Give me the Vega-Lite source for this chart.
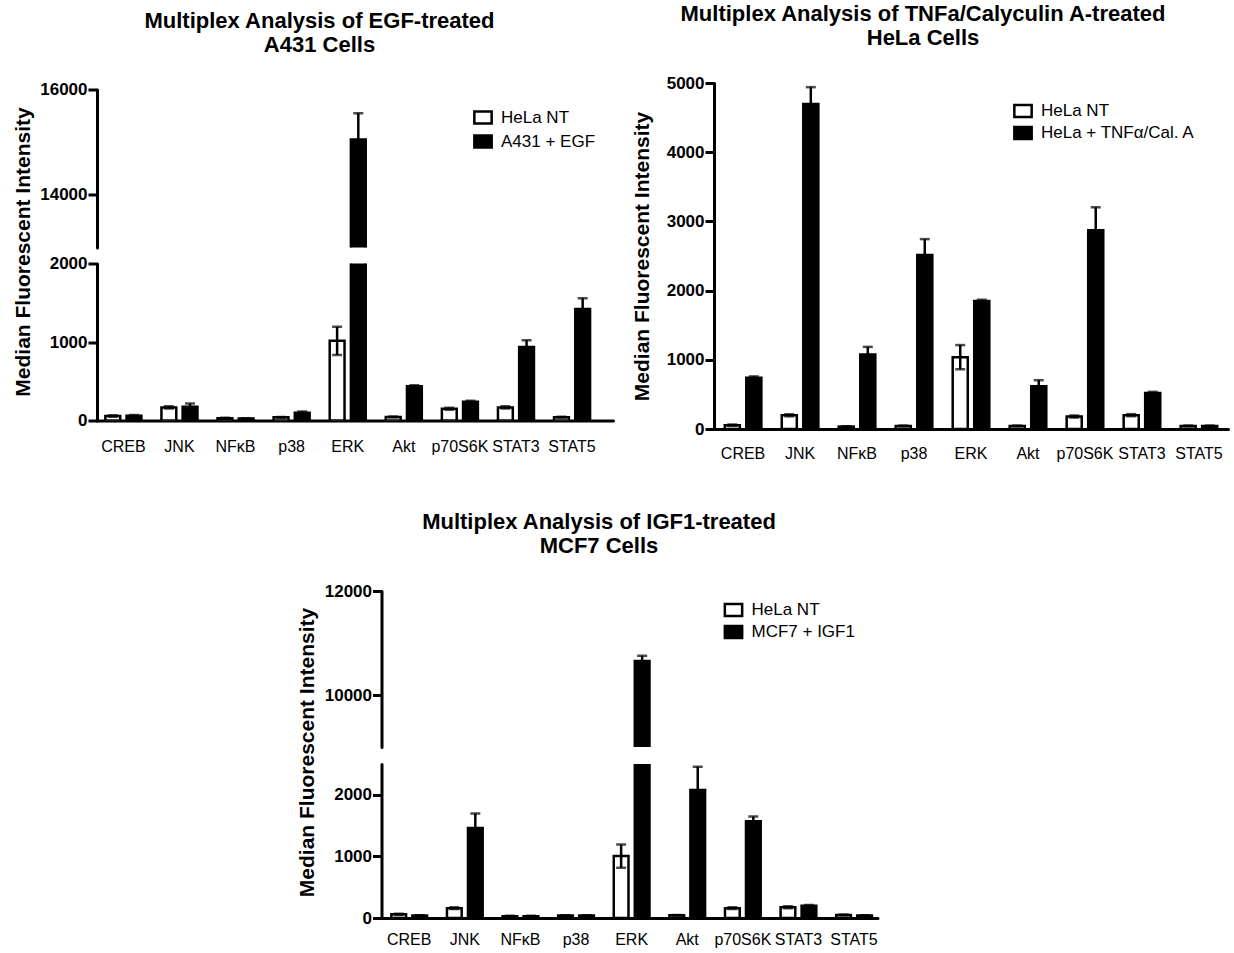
{
  "$schema": "https://vega.github.io/schema/vega-lite/v6.json",
  "background": "white",
  "padding": {"left": 12, "top": 3, "right": 2, "bottom": 2},
  "config": {
    "font": "Liberation Sans",
    "view": {"stroke": null},
    "axis": {"domainColor": "black", "domainWidth": 3, "domainCap": "round", "tickColor": "black", "tickWidth": 3, "tickSize": 9, "labelColor": "black", "titleColor": "black", "grid": false, "labelFont": "Liberation Sans", "titleFont": "Liberation Sans"},
    "axisY": {"labelFontWeight": "bold", "labelFontSize": 17, "labelPadding": 1, "titleFontSize": 21, "titleFontWeight": "bold", "titlePadding": 6},
    "axisX": {"labelFontSize": 16, "labelFontWeight": "normal", "ticks": false, "tickSize": 0, "labelPadding": 12, "labelAngle": 0, "labelOverlap": false, "labelBound": false},
    "title": {"font": "Liberation Sans", "fontSize": 22, "fontWeight": "bold", "lineHeight": 24, "color": "black", "anchor": "middle", "offset": 24},
    "legend": {"labelFont": "Liberation Sans", "labelFontSize": 17, "labelColor": "black", "padding": 0}
  },
  "datasets": {
    "egf": [
      {"protein": "CREB", "group": "HeLa NT", "value": 58, "lo": 48, "hi": 68},
      {"protein": "CREB", "group": "A431 + EGF", "value": 60, "lo": 50, "hi": 70},
      {"protein": "JNK", "group": "HeLa NT", "value": 167, "lo": 152, "hi": 182},
      {"protein": "JNK", "group": "A431 + EGF", "value": 175, "lo": 135, "hi": 215},
      {"protein": "NFκB", "group": "HeLa NT", "value": 30, "lo": 25, "hi": 35},
      {"protein": "NFκB", "group": "A431 + EGF", "value": 25, "lo": 20, "hi": 30},
      {"protein": "p38", "group": "HeLa NT", "value": 40, "lo": 35, "hi": 45},
      {"protein": "p38", "group": "A431 + EGF", "value": 100, "lo": 85, "hi": 115},
      {"protein": "ERK", "group": "HeLa NT", "value": 1015, "lo": 835, "hi": 1195},
      {"protein": "ERK", "group": "A431 + EGF", "value": 15050, "lo": 14550, "hi": 15550},
      {"protein": "Akt", "group": "HeLa NT", "value": 45, "lo": 40, "hi": 50},
      {"protein": "Akt", "group": "A431 + EGF", "value": 435, "lo": 420, "hi": 450},
      {"protein": "p70S6K", "group": "HeLa NT", "value": 150, "lo": 138, "hi": 162},
      {"protein": "p70S6K", "group": "A431 + EGF", "value": 240, "lo": 228, "hi": 252},
      {"protein": "STAT3", "group": "HeLa NT", "value": 166, "lo": 152, "hi": 180},
      {"protein": "STAT3", "group": "A431 + EGF", "value": 936, "lo": 850, "hi": 1022},
      {"protein": "STAT5", "group": "HeLa NT", "value": 42, "lo": 37, "hi": 47},
      {"protein": "STAT5", "group": "A431 + EGF", "value": 1421, "lo": 1284, "hi": 1558}
    ],
    "tnf": [
      {"protein": "CREB", "group": "HeLa NT", "value": 55, "lo": 45, "hi": 65},
      {"protein": "CREB", "group": "HeLa + TNFα/Cal. A", "value": 740, "lo": 720, "hi": 760},
      {"protein": "JNK", "group": "HeLa NT", "value": 198, "lo": 183, "hi": 213},
      {"protein": "JNK", "group": "HeLa + TNFα/Cal. A", "value": 4695, "lo": 4450, "hi": 4940},
      {"protein": "NFκB", "group": "HeLa NT", "value": 35, "lo": 30, "hi": 40},
      {"protein": "NFκB", "group": "HeLa + TNFα/Cal. A", "value": 1077, "lo": 967, "hi": 1187},
      {"protein": "p38", "group": "HeLa NT", "value": 45, "lo": 40, "hi": 50},
      {"protein": "p38", "group": "HeLa + TNFα/Cal. A", "value": 2514, "lo": 2284, "hi": 2744},
      {"protein": "ERK", "group": "HeLa NT", "value": 1038, "lo": 863, "hi": 1213},
      {"protein": "ERK", "group": "HeLa + TNFα/Cal. A", "value": 1848, "lo": 1828, "hi": 1868},
      {"protein": "Akt", "group": "HeLa NT", "value": 45, "lo": 40, "hi": 50},
      {"protein": "Akt", "group": "HeLa + TNFα/Cal. A", "value": 618, "lo": 531, "hi": 705},
      {"protein": "p70S6K", "group": "HeLa NT", "value": 180, "lo": 165, "hi": 195},
      {"protein": "p70S6K", "group": "HeLa + TNFα/Cal. A", "value": 2871, "lo": 2538, "hi": 3204},
      {"protein": "STAT3", "group": "HeLa NT", "value": 200, "lo": 185, "hi": 215},
      {"protein": "STAT3", "group": "HeLa + TNFα/Cal. A", "value": 522, "lo": 507, "hi": 537},
      {"protein": "STAT5", "group": "HeLa NT", "value": 45, "lo": 40, "hi": 50},
      {"protein": "STAT5", "group": "HeLa + TNFα/Cal. A", "value": 45, "lo": 40, "hi": 50}
    ],
    "igf": [
      {"protein": "CREB", "group": "HeLa NT", "value": 60, "lo": 50, "hi": 70},
      {"protein": "CREB", "group": "MCF7 + IGF1", "value": 40, "lo": 35, "hi": 45},
      {"protein": "JNK", "group": "HeLa NT", "value": 160, "lo": 145, "hi": 175},
      {"protein": "JNK", "group": "MCF7 + IGF1", "value": 1463, "lo": 1231, "hi": 1695},
      {"protein": "NFκB", "group": "HeLa NT", "value": 30, "lo": 25, "hi": 35},
      {"protein": "NFκB", "group": "MCF7 + IGF1", "value": 30, "lo": 25, "hi": 35},
      {"protein": "p38", "group": "HeLa NT", "value": 40, "lo": 35, "hi": 45},
      {"protein": "p38", "group": "MCF7 + IGF1", "value": 40, "lo": 35, "hi": 45},
      {"protein": "ERK", "group": "HeLa NT", "value": 1005, "lo": 817, "hi": 1193},
      {"protein": "ERK", "group": "MCF7 + IGF1", "value": 10655, "lo": 10555, "hi": 10755},
      {"protein": "Akt", "group": "HeLa NT", "value": 45, "lo": 40, "hi": 50},
      {"protein": "Akt", "group": "MCF7 + IGF1", "value": 2079, "lo": 1701, "hi": 2457},
      {"protein": "p70S6K", "group": "HeLa NT", "value": 160, "lo": 145, "hi": 175},
      {"protein": "p70S6K", "group": "MCF7 + IGF1", "value": 1572, "lo": 1497, "hi": 1647},
      {"protein": "STAT3", "group": "HeLa NT", "value": 175, "lo": 160, "hi": 190},
      {"protein": "STAT3", "group": "MCF7 + IGF1", "value": 200, "lo": 190, "hi": 210},
      {"protein": "STAT5", "group": "HeLa NT", "value": 50, "lo": 45, "hi": 55},
      {"protein": "STAT5", "group": "MCF7 + IGF1", "value": 40, "lo": 35, "hi": 45}
    ]
  },
  "spacing": 50,
  "center": true,
  "resolve": {"scale": {"fill": "independent", "xOffset": "independent"}, "legend": {"fill": "independent"}},
  "vconcat": [
    {
      "spacing": 18,
      "center": true,
      "resolve": {"scale": {"fill": "independent", "xOffset": "independent"}, "legend": {"fill": "independent"}},
      "hconcat": [
        {
          "title": {"text": ["Multiplex Analysis of EGF-treated", "A431 Cells"], "dx": 7},
          "data": {"name": "egf"},
          "spacing": 16,
          "bounds": "flush",
          "resolve": {"scale": {"fill": "independent", "xOffset": "independent"}, "legend": {"fill": "independent"}},
          "vconcat": [
            {
              "width": 516, "height": 158,
              "encoding": {
                "x": {"field": "protein", "type": "nominal", "sort": null, "scale": {"paddingInner": 0.32, "paddingOuter": 0.26, "align": 0.25}, "axis": null},
                "xOffset": {"field": "group", "type": "nominal", "sort": null, "scale": {"paddingInner": 0.3, "paddingOuter": 0.05}}
              },
              "layer": [
                {"mark": {"type": "bar", "stroke": "black", "strokeWidth": 2.5, "clip": true},
                 "encoding": {
                   "y": {"field": "value", "type": "quantitative", "title": null, "scale": {"domain": [13000, 16000], "nice": false, "zero": false}, "axis": {"values": [14000, 16000], "format": "d"}},
                   "fill": {"field": "group", "type": "nominal", "sort": null, "scale": {"domain": ["HeLa NT", "A431 + EGF"], "range": ["white", "black"]},
                            "legend": {"title": null, "orient": "none", "legendX": 376, "legendY": 18, "symbolType": "M-1,-0.7H1V0.7H-1Z", "symbolSize": 300, "symbolStrokeColor": "black", "symbolStrokeWidth": 2.5, "labelOffset": 8, "rowPadding": 0}}
                 }},
                {"mark": {"type": "rule", "color": "black", "strokeWidth": 2.5, "clip": true},
                 "encoding": {"y": {"field": "lo", "type": "quantitative", "title": null}, "y2": {"field": "hi"}}},
                {"mark": {"type": "tick", "color": "black", "thickness": 2.5, "size": 10, "clip": true},
                 "encoding": {"y": {"field": "hi", "type": "quantitative", "title": null}}},
                {"mark": {"type": "tick", "color": "black", "thickness": 2.5, "size": 10, "clip": true},
                 "encoding": {"y": {"field": "lo", "type": "quantitative", "title": null}}}
              ]
            },
            {
              "width": 516, "height": 157,
              "encoding": {
                "x": {"field": "protein", "type": "nominal", "sort": null, "title": null, "scale": {"paddingInner": 0.32, "paddingOuter": 0.26, "align": 0.25}, "axis": {"labelPadding": 18}},
                "xOffset": {"field": "group", "type": "nominal", "sort": null, "scale": {"paddingInner": 0.3, "paddingOuter": 0.05}}
              },
              "layer": [
                {"mark": {"type": "bar", "stroke": "black", "strokeWidth": 2.5, "clip": true},
                 "encoding": {
                   "y": {"field": "value", "type": "quantitative", "title": "Median Fluorescent Intensity", "scale": {"domain": [0, 2000], "nice": false}, "axis": {"values": [0, 1000, 2000], "format": "d", "titleX": -64, "titleY": -12}},
                   "fill": {"field": "group", "type": "nominal", "sort": null, "scale": {"domain": ["HeLa NT", "A431 + EGF"], "range": ["white", "black"]}, "legend": null}
                 }},
                {"mark": {"type": "rule", "color": "black", "strokeWidth": 2.5, "clip": true},
                 "encoding": {"y": {"field": "lo", "type": "quantitative", "title": "Median Fluorescent Intensity"}, "y2": {"field": "hi"}}},
                {"mark": {"type": "tick", "color": "black", "thickness": 2.5, "size": 10, "clip": true},
                 "encoding": {"y": {"field": "hi", "type": "quantitative", "title": "Median Fluorescent Intensity"}}},
                {"mark": {"type": "tick", "color": "black", "thickness": 2.5, "size": 10, "clip": true},
                 "encoding": {"y": {"field": "lo", "type": "quantitative", "title": "Median Fluorescent Intensity"}}}
              ]
            }
          ]
        },
        {
          "title": {"text": ["Multiplex Analysis of TNFa/Calyculin A-treated", "HeLa Cells"], "dx": -48},
          "data": {"name": "tnf"},
          "width": 514, "height": 346,
          "encoding": {
            "x": {"field": "protein", "type": "nominal", "sort": null, "title": null, "scale": {"paddingInner": 0.32, "paddingOuter": 0.17, "align": 0.5}, "axis": {"labelPadding": 16}},
            "xOffset": {"field": "group", "type": "nominal", "sort": null, "scale": {"paddingInner": 0.3, "paddingOuter": 0.05}}
          },
          "layer": [
            {"mark": {"type": "bar", "stroke": "black", "strokeWidth": 2.5, "clip": true},
             "encoding": {
               "y": {"field": "value", "type": "quantitative", "title": "Median Fluorescent Intensity", "scale": {"domain": [0, 5000], "nice": false}, "axis": {"values": [0, 1000, 2000, 3000, 4000, 5000], "format": "d", "titleX": -62}},
               "fill": {"field": "group", "type": "nominal", "sort": null, "scale": {"domain": ["HeLa NT", "HeLa + TNFα/Cal. A"], "range": ["white", "black"]},
                        "legend": {"title": null, "orient": "none", "legendX": 299, "legendY": 18, "symbolType": "M-1,-0.7H1V0.7H-1Z", "symbolSize": 300, "symbolStrokeColor": "black", "symbolStrokeWidth": 2.5, "labelOffset": 8, "rowPadding": -6}}
             }},
            {"mark": {"type": "rule", "color": "black", "strokeWidth": 2.5, "clip": true},
             "encoding": {"y": {"field": "lo", "type": "quantitative", "title": "Median Fluorescent Intensity"}, "y2": {"field": "hi"}}},
            {"mark": {"type": "tick", "color": "black", "thickness": 2.5, "size": 10, "clip": true},
             "encoding": {"y": {"field": "hi", "type": "quantitative", "title": "Median Fluorescent Intensity"}}},
            {"mark": {"type": "tick", "color": "black", "thickness": 2.5, "size": 10, "clip": true},
             "encoding": {"y": {"field": "lo", "type": "quantitative", "title": "Median Fluorescent Intensity"}}}
          ]
        }
      ]
    },
    {
      "spacing": 14,
      "resolve": {"scale": {"fill": "independent", "xOffset": "independent"}, "legend": {"fill": "independent"}},
      "hconcat": [
        {
          "title": {"text": ["Multiplex Analysis of IGF1-treated", "MCF7 Cells"], "dx": 12},
          "data": {"name": "igf"},
          "spacing": 17,
          "bounds": "flush",
          "resolve": {"scale": {"fill": "independent", "xOffset": "independent"}, "legend": {"fill": "independent"}},
          "vconcat": [
            {
              "width": 496, "height": 156,
              "encoding": {
                "x": {"field": "protein", "type": "nominal", "sort": null, "scale": {"paddingInner": 0.32, "paddingOuter": 0.12, "align": 0.66}, "axis": null},
                "xOffset": {"field": "group", "type": "nominal", "sort": null, "scale": {"paddingInner": 0.3, "paddingOuter": 0.05}}
              },
              "layer": [
                {"mark": {"type": "bar", "stroke": "black", "strokeWidth": 2.5, "clip": true},
                 "encoding": {
                   "y": {"field": "value", "type": "quantitative", "title": null, "scale": {"domain": [9000, 12000], "nice": false, "zero": false}, "axis": {"values": [10000, 12000], "format": "d"}},
                   "fill": {"field": "group", "type": "nominal", "sort": null, "scale": {"domain": ["HeLa NT", "MCF7 + IGF1"], "range": ["white", "black"]},
                            "legend": {"title": null, "orient": "none", "legendX": 342, "legendY": 9, "symbolType": "M-1,-0.7H1V0.7H-1Z", "symbolSize": 300, "symbolStrokeColor": "black", "symbolStrokeWidth": 2.5, "labelOffset": 8, "rowPadding": -6}}
                 }},
                {"mark": {"type": "rule", "color": "black", "strokeWidth": 2.5, "clip": true},
                 "encoding": {"y": {"field": "lo", "type": "quantitative", "title": null}, "y2": {"field": "hi"}}},
                {"mark": {"type": "tick", "color": "black", "thickness": 2.5, "size": 10, "clip": true},
                 "encoding": {"y": {"field": "hi", "type": "quantitative", "title": null}}},
                {"mark": {"type": "tick", "color": "black", "thickness": 2.5, "size": 10, "clip": true},
                 "encoding": {"y": {"field": "lo", "type": "quantitative", "title": null}}}
              ]
            },
            {
              "width": 496, "height": 154,
              "encoding": {
                "x": {"field": "protein", "type": "nominal", "sort": null, "title": null, "scale": {"paddingInner": 0.32, "paddingOuter": 0.12, "align": 0.66}, "axis": {"labelPadding": 13}},
                "xOffset": {"field": "group", "type": "nominal", "sort": null, "scale": {"paddingInner": 0.3, "paddingOuter": 0.05}}
              },
              "layer": [
                {"mark": {"type": "bar", "stroke": "black", "strokeWidth": 2.5, "clip": true},
                 "encoding": {
                   "y": {"field": "value", "type": "quantitative", "title": "Median Fluorescent Intensity", "scale": {"domain": [0, 2500], "nice": false}, "axis": {"values": [0, 1000, 2000], "format": "d", "titleX": -64, "titleY": -12}},
                   "fill": {"field": "group", "type": "nominal", "sort": null, "scale": {"domain": ["HeLa NT", "MCF7 + IGF1"], "range": ["white", "black"]}, "legend": null}
                 }},
                {"mark": {"type": "rule", "color": "black", "strokeWidth": 2.5, "clip": true},
                 "encoding": {"y": {"field": "lo", "type": "quantitative", "title": "Median Fluorescent Intensity"}, "y2": {"field": "hi"}}},
                {"mark": {"type": "tick", "color": "black", "thickness": 2.5, "size": 10, "clip": true},
                 "encoding": {"y": {"field": "hi", "type": "quantitative", "title": "Median Fluorescent Intensity"}}},
                {"mark": {"type": "tick", "color": "black", "thickness": 2.5, "size": 10, "clip": true},
                 "encoding": {"y": {"field": "lo", "type": "quantitative", "title": "Median Fluorescent Intensity"}}}
              ]
            }
          ]
        },
        {
          "data": {"values": []},
          "width": 52, "height": 10,
          "mark": "point"
        }
      ]
    }
  ]
}
